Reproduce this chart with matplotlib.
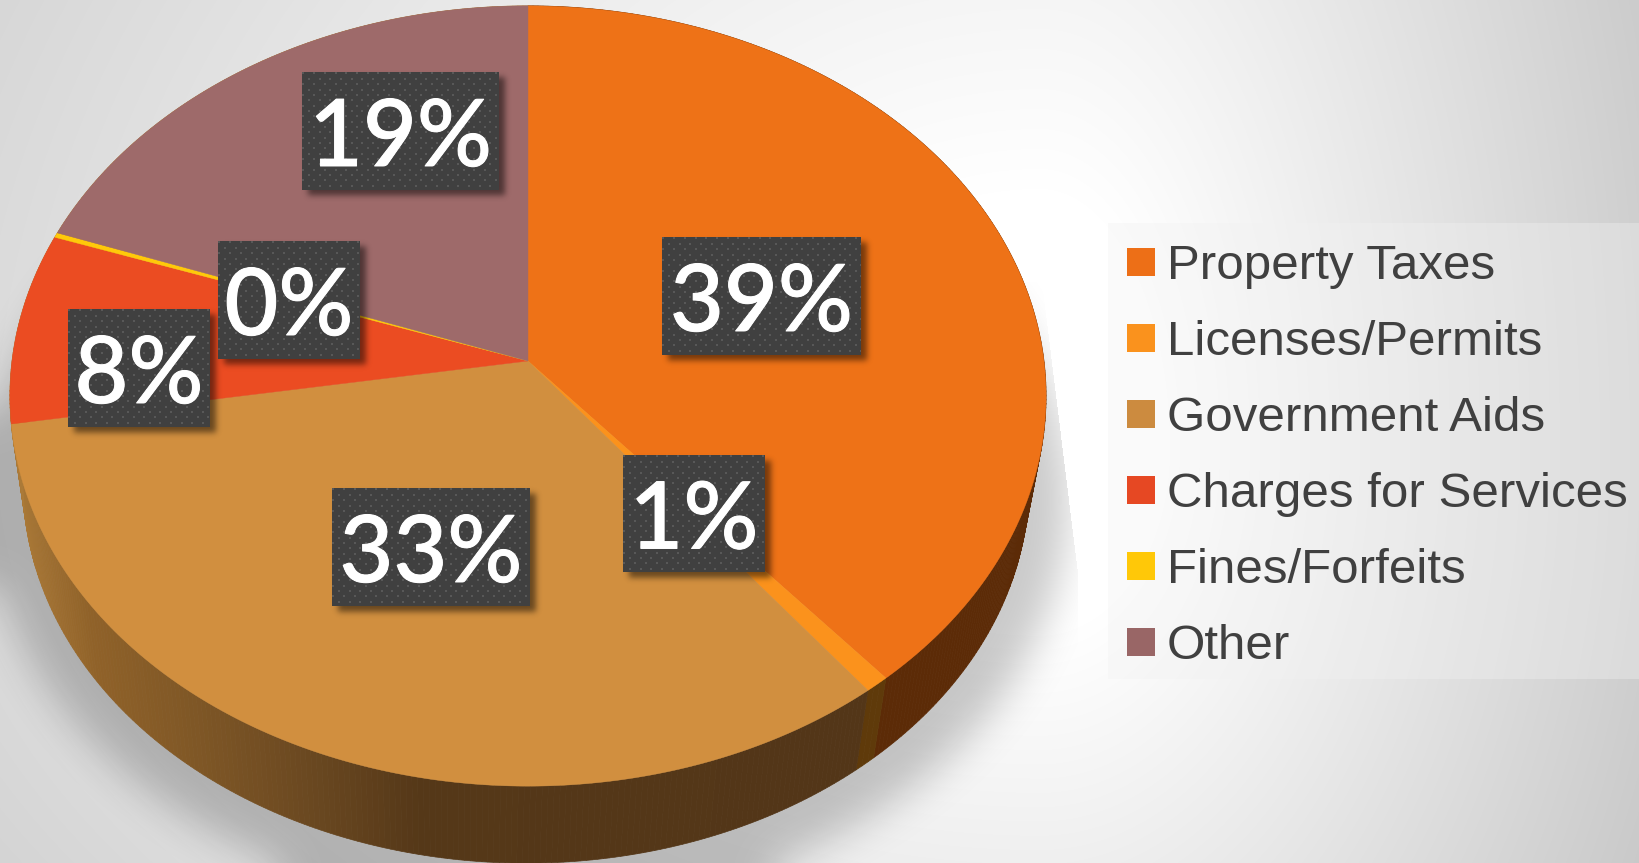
import matplotlib
matplotlib.use('Agg')
import matplotlib.pyplot as plt
import matplotlib.patheffects as pe
import numpy as np
from matplotlib.colors import to_rgb
from matplotlib.patches import Rectangle

# data
categories = ['Property Taxes', 'Licenses/Permits', 'Government Aids',
              'Charges for Services', 'Fines/Forfeits', 'Other']
values = [38.8, 0.7, 32.9, 7.9, 0.2, 19.45]
top_colors = ['#ee7217', '#fb921c', '#d18f3f', '#eb4c22', '#ffc90a', '#9e6a6a']
side_colors = ['#5c2b07', '#5f3a0a', '#523518', '#ab7a38', '#ab7a38', '#ab7a38']
legend_colors = ['#ed6f17', '#fa921d', '#cc8b3f', '#e64823', '#ffc808', '#996666']

W, H = 1639, 863
# label boxes in pixels, x0 x1 y0 y1
label_boxes = [(662, 861, 237, 355), (623, 765, 455, 572), (332, 530, 488, 606),
               (68, 210, 309, 427), (218, 360, 241, 359), (302, 499, 72, 190)]

fig = plt.figure(figsize=(W / 100, H / 100), dpi=100)
ax = fig.add_axes([0, 0, 1, 1])
ax.axis('off')

yy, xx = np.mgrid[0:H, 0:W] + 0.5


def blur(a, sigma):
    r = int(sigma * 3)
    k = np.exp(-0.5 * (np.arange(-r, r + 1) / sigma) ** 2)
    k /= k.sum()
    pad = np.pad(a, r, mode='edge')
    pad = np.apply_along_axis(lambda v: np.convolve(v, k, mode='same'), 0, pad)
    pad = np.apply_along_axis(lambda v: np.convolve(v, k, mode='same'), 1, pad)
    return pad[r:-r, r:-r]


def project(theta, cx, cy, a, b):
    # circle seen in perspective, apex of the pie is not the middle of the ellipse
    x, y = np.sin(theta), np.cos(theta)
    d = 1 + 0.0897 * y
    return cx + a * x / d, cy - b * y / d


def top(theta):
    return project(theta, 528, 361, 516, 387)


def low(theta):
    return project(theta, 526, 449, 501, 377)


# background, white spot right of the pie, falls off faster to the right
dx = np.where(xx < 1040, (xx - 1040) * 0.46, xx - 1040)
dy = np.where(yy < 450, (yy - 450) * 0.5, (yy - 450) * 0.7)
d = np.hypot(dx, dy)
bg = 255 - np.clip(d - 130, 0, None) * 0.1
ax.imshow(np.dstack([bg, bg, bg]).astype(np.uint8), extent=(0, W, H, 0),
          aspect='auto', interpolation='nearest', zorder=0)

# shadow under the pie, cut on the right like in the original
sh = (((xx - 528) / 540) ** 2 + ((yy - 500) / 408) ** 2 < 1).astype(float)
sh = blur(sh, 20)
edge = np.interp(yy, [283, 573], [1042, 1078])
sh[xx > edge] = 0
sh[(yy < 283) & (xx > 700)] = 0
shadow = np.zeros((H, W, 4))
shadow[..., 3] = sh * 0.21
ax.imshow(shadow, extent=(0, W, H, 0), aspect='auto', interpolation='nearest', zorder=1)

# side wall
grad_x = [20, 100, 200, 320, 420, 1000]
grad_c = np.array([to_rgb(c) for c in ['#ab7a38', '#906229', '#7f5726', '#694720', '#553818', '#523518']])
edges = np.cumsum([0] + values) / sum(values) * 2 * np.pi
for i, v in enumerate(values):
    th = np.linspace(edges[i], edges[i + 1], max(2, int(v * 6)))
    for t0, t1 in zip(th[:-1], th[1:]):
        x0, y0 = low(t0)
        x1, y1 = low(t1)
        x2, y2 = top(t1)
        x3, y3 = top(t0)
        if i == 2:
            c = [np.interp((x0 + x1) / 2, grad_x, grad_c[:, j]) for j in range(3)]
        else:
            c = side_colors[i]
        ax.fill([x0, x1, x2, x3], [y0, y1, y2, y3], color=c, lw=0.5, zorder=2)

# top face
for i, v in enumerate(values):
    th = np.linspace(edges[i], edges[i + 1], max(3, int(v * 12)))
    px, py = top(th)
    ax.fill(np.r_[528, px], np.r_[361, py], color=top_colors[i], lw=0.3, zorder=3)

# label shadows
ls = np.zeros((H, W))
for x0, x1, y0, y1 in label_boxes:
    ls[y0 + 6:y1 + 6, x0 + 6:x1 + 6] = 1
ls = blur(ls, 3)
lay = np.zeros((H, W, 4))
lay[..., 3] = ls * 0.5
ax.imshow(lay, extent=(0, W, H, 0), aspect='auto', interpolation='bilinear', zorder=4)

# labels with the dotted fill
for (x0, x1, y0, y1), v in zip(label_boxes, values):
    gy, gx = np.mgrid[0:y1 - y0, 0:x1 - x0]
    dots = ((gx % 10.67 < 2) & (gy % 10.67 < 2)) | (((gx + 5.33) % 10.67 < 2) & ((gy + 5.33) % 10.67 < 2))
    tex = np.where(dots, 0x58, 0x40).astype(np.uint8)
    ax.imshow(np.dstack([tex, tex, tex]), extent=(x0, x1, y1, y0), aspect='auto',
              interpolation='nearest', zorder=5)
    t = ax.text((x0 + x1) / 2, (y0 + y1) / 2 + 9, f'{round(v)}%', color='white', family='Lato',
                weight=500, fontsize=67, ha='center', va='center', zorder=6)
    t.set_path_effects([pe.withStroke(linewidth=0.7, foreground='white')])

# legend
ax.add_patch(Rectangle((1108, 223), W - 1108, 456, fc='#f2f2f2', alpha=0.37, lw=0, zorder=2))
for i, name in enumerate(categories):
    ax.add_patch(Rectangle((1127, 248 + i * 76), 28, 28, fc=legend_colors[i], lw=0, zorder=3))
    ax.text(1167, 261 + i * 76, name, color='#404040', family='Liberation Sans',
            fontsize=35.5, va='center_baseline', ha='left', zorder=3)

ax.set_xlim(0, W)
ax.set_ylim(H, 0)
fig.savefig('out.png', dpi=100)
